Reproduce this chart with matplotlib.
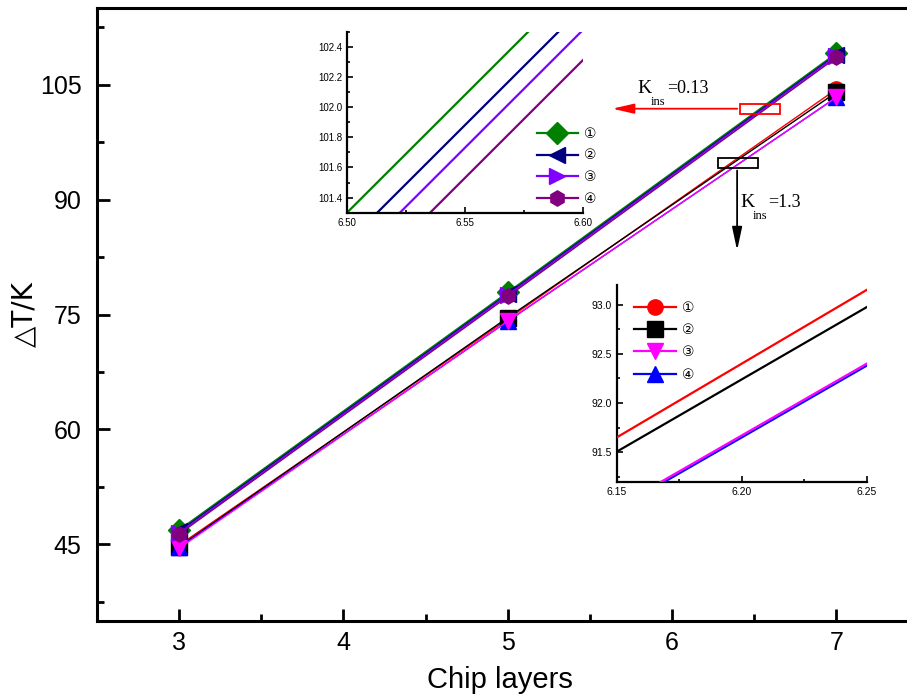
import matplotlib
matplotlib.use("Agg")
import matplotlib.pyplot as plt
from matplotlib.patches import Rectangle
from matplotlib.ticker import MultipleLocator
import numpy as np

plt.rcParams['font.family'] = ['Liberation Sans', 'DejaVu Sans', 'Noto Sans CJK SC']

layers = [3, 5, 7]
labels = ['①', '②', '③', '④']

# K_ins = 0.13 group
g1_names = ['①', '②', '③', '④']
g1_vals = [
    [46.9, 77.9, 109.1],
    [46.7, 77.7, 108.9],
    [46.5, 77.55, 108.75],
    [46.35, 77.35, 108.55],
]
g1_colors = ['#008000', '#000080', '#8000FF', '#800080']
g1_markers = ['D', '<', '>', 'h']

# K_ins = 1.3 group
g2_vals = [
    [44.9, 74.4, 104.4],
    [44.7, 74.6, 104.0],
    [44.5, 74.15, 103.35],
    [44.6, 74.13, 103.33],
]
g2_colors = ['#FF0000', '#000000', '#FF00FF', '#0000FF']
g2_markers = ['o', 's', 'v', '^']
g2_z = [3, 3, 5, 4]

W, H = 907, 695
fig = plt.figure(figsize=(W / 100, H / 100), dpi=100)

def px(x0, y0, x1, y1):
    return [x0 / W, 1 - y1 / H, (x1 - x0) / W, (y1 - y0) / H]

ax = fig.add_axes(px(97, 8, 97 + 821.5, 621))
ax.set_xlim(2.5, 7.5)
ax.set_ylim(35, 115)

for v, c, m, z in zip(g2_vals, g2_colors, g2_markers, g2_z):
    ax.plot(layers, v, color=c, marker=m, ms=11, lw=1.0, zorder=z)
for v, c, m in zip(g1_vals, g1_colors, g1_markers):
    ax.plot(layers, v, color=c, marker=m, ms=11, lw=1.1, zorder=6)

ax.xaxis.set_minor_locator(MultipleLocator(0.5))
ax.yaxis.set_minor_locator(MultipleLocator(7.5))
ax.set_xticks([3, 4, 5, 6, 7])
ax.set_yticks([45, 60, 75, 90, 105])
ax.tick_params(which='both', direction='in', width=2, top=False, right=False)
ax.tick_params(which='major', length=9, labelsize=18)
ax.tick_params(which='minor', length=5)
ax.tick_params(axis='x', which='major', pad=7)
ax.tick_params(axis='y', which='major', pad=11)
for s in ax.spines.values():
    s.set_linewidth(2.2)
ax.set_xlabel('Chip layers', fontsize=21)
ax.xaxis.set_label_coords((500 - 97) / 821.5, -(666 - 621) / 613)
ax.xaxis.label.set_va('top')
ax.set_ylabel('△T/K', fontsize=20,
              family=['DejaVu Sans', 'Noto Sans CJK SC'])
ax.yaxis.set_label_coords(-(97 - 38) / 821.5, 0.5)

# annotations
ax.add_patch(Rectangle((6.414, 101.21), 0.244, 1.31, fill=False,
                       edgecolor='red', lw=1.3, zorder=8))
ax.annotate('', xy=(5.62, 101.86), xytext=(6.414, 101.86),
            arrowprops=dict(arrowstyle='-|>,head_length=1.3,head_width=0.3',
                            color='red', lw=1.3), zorder=8)
ax.add_patch(Rectangle((6.281, 94.15), 0.243, 1.31, fill=False,
                       edgecolor='black', lw=1.3, zorder=8))
ax.annotate('', xy=(6.396, 83.0), xytext=(6.396, 94.15),
            arrowprops=dict(arrowstyle='-|>,head_length=1.4,head_width=0.3',
                            color='black', lw=1.3), zorder=8)
serif = 'Liberation Serif'
ax.text(5.788, 104.48, 'K', family=serif, fontsize=14, va='center', ha='left')
ax.text(5.873, 102.69, 'ins', family=serif, fontsize=9, va='center', ha='left')
ax.text(5.970, 104.48, '=0.13', family=serif, fontsize=13, va='center', ha='left')
ax.text(6.415, 89.61, 'K', family=serif, fontsize=14, va='center', ha='left')
ax.text(6.494, 87.88, 'ins', family=serif, fontsize=9, va='center', ha='left')
ax.text(6.585, 89.61, '=1.3', family=serif, fontsize=13, va='center', ha='left')

circ_font = ['DejaVu Sans', 'Noto Sans CJK SC']
xs = np.array(layers, dtype=float)

# inset 1
a1 = fig.add_axes(px(347, 31.7, 582.7, 212.7))
for v, c, m, n in zip(g1_vals, g1_colors, g1_markers, g1_names):
    a1.plot(xs, v, color=c, marker=m, ms=11, lw=1.6, label=n)
a1.set_xlim(6.50, 6.60)
a1.set_ylim(101.3, 102.5)
a1.set_xticks([6.50, 6.55, 6.60])
a1.set_xticklabels(['6.50', '6.55', '6.60'])
a1.set_yticks([101.4, 101.6, 101.8, 102.0, 102.2, 102.4])
a1.xaxis.set_minor_locator(MultipleLocator(0.025))
a1.yaxis.set_minor_locator(MultipleLocator(0.1))
a1.spines['top'].set_visible(False)
a1.spines['right'].set_visible(False)
for s in ('left', 'bottom'):
    a1.spines[s].set_linewidth(1.6)
a1.tick_params(which='both', direction='in', width=1.2, labelsize=7)
a1.tick_params(which='major', length=4)
a1.tick_params(which='minor', length=2.5)
a1.patch.set_alpha(0)
a1.legend(loc='lower right', frameon=False, handlelength=3.0,
          labelspacing=0.55, borderaxespad=0.1, handletextpad=0.45,
          prop={'family': circ_font, 'size': 10}, bbox_to_anchor=(1.09, 0.0))

# inset 2
a2 = fig.add_axes(px(616.7, 285, 866.7, 481.7))
for v, c, m, n, z in zip(g2_vals, g2_colors, g2_markers, labels, g2_z):
    a2.plot(xs, v, color=c, marker=m, ms=11, lw=1.6, label=n, zorder=z)
a2.set_xlim(6.15, 6.25)
a2.set_ylim(91.2, 93.2)
a2.set_xticks([6.15, 6.20, 6.25])
a2.set_xticklabels(['6.15', '6.20', '6.25'])
a2.set_yticks([91.5, 92.0, 92.5, 93.0])
a2.xaxis.set_minor_locator(MultipleLocator(0.025))
a2.yaxis.set_minor_locator(MultipleLocator(0.25))
a2.spines['top'].set_visible(False)
a2.spines['right'].set_visible(False)
for s in ('left', 'bottom'):
    a2.spines[s].set_linewidth(1.6)
a2.tick_params(which='both', direction='in', width=1.2, labelsize=7.5)
a2.tick_params(which='major', length=4)
a2.tick_params(which='minor', length=2.5)
a2.patch.set_alpha(0)
a2.legend(loc='upper left', frameon=False, handlelength=3.0,
          labelspacing=0.6, borderaxespad=0.3, handletextpad=0.45,
          prop={'family': circ_font, 'size': 10}, bbox_to_anchor=(0.03, 0.97))

fig.savefig('out.png', dpi=100)
